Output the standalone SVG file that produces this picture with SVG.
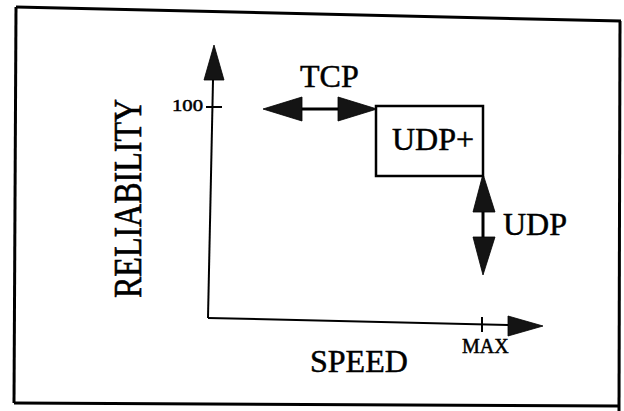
<svg xmlns="http://www.w3.org/2000/svg" width="624" height="411" viewBox="0 0 624 411">
<style>
.frame{stroke:#000;stroke-width:3;fill:none}
.ax{stroke:#000;stroke-width:2;fill:none}
.head{fill:#141414;stroke:#000;stroke-width:0.8}
.t{font-family:"Liberation Serif","Times New Roman",serif;fill:#000;stroke:#000;stroke-width:0.5}
</style>
<rect width="624" height="411" fill="#fff"/>
<g id="frame">
<line class="frame" x1="16" y1="7" x2="621" y2="21"/>
<line class="frame" x1="16" y1="7" x2="14" y2="403"/>
<line class="frame" x1="14" y1="403" x2="619" y2="406"/>
<line class="frame" x1="620" y1="21" x2="619" y2="411"/>
</g>
<g id="connectors">
<g id="y-axis">
<line class="ax" x1="208" y1="318" x2="213" y2="80"/>
<polygon class="head" points="214,45 204,80 224,80"/>
<line class="ax" x1="206" y1="107" x2="222" y2="107" stroke-width="2.5"/>
</g>
<g id="x-axis">
<line class="ax" x1="208" y1="318" x2="508" y2="325"/>
<polygon class="head" points="543,326 508,316 508,336"/>
<line class="ax" x1="482" y1="317" x2="482" y2="332" stroke-width="2.5"/>
</g>
<g id="tcp-arrow">
<line x1="300" y1="109" x2="340" y2="109" stroke="#000" stroke-width="3"/>
<polygon class="head" points="263,109 302,97 302,121"/>
<polygon class="head" points="377,109 338,97 338,121"/>
</g>
<g id="udp-arrow">
<line x1="483" y1="210" x2="483" y2="239" stroke="#000" stroke-width="3"/>
<polygon class="head" points="483,174 473,212 495,212"/>
<polygon class="head" points="483,275 473,237 495,237"/>
</g>
</g>
<g id="udpplus">
<rect x="376" y="106" width="107" height="70" fill="#fff" stroke="#000" stroke-width="2.5"/>
<text class="t" x="392" y="150" font-size="32">UDP+</text>
</g>
<g id="labels">
<text class="t" x="300" y="87" font-size="32">TCP</text>
<text class="t" x="503" y="235" font-size="32">UDP</text>
<text class="t" x="172" y="111" font-size="17" textLength="31" lengthAdjust="spacingAndGlyphs">100</text>
<text class="t" x="462" y="353" font-size="20">MAX</text>
<text class="t" x="310" y="372" font-size="32">SPEED</text>
<text class="t" font-size="32" transform="translate(141,298) rotate(-90) scale(1,1.25)">RELIABILITY</text>
</g>
</svg>
